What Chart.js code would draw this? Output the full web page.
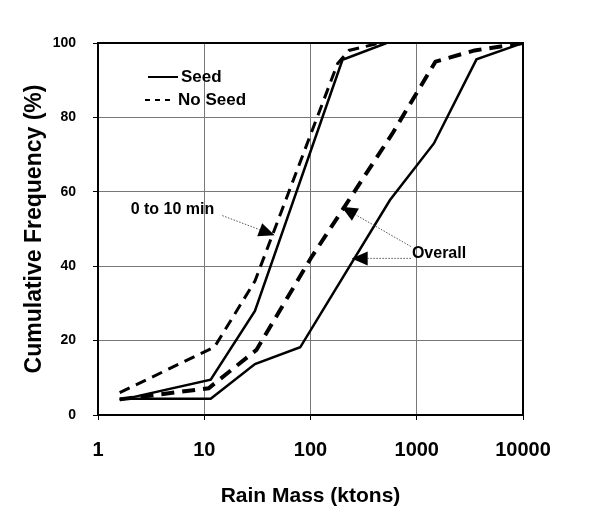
<!DOCTYPE html>
<html>
<head>
<meta charset="utf-8">
<script src="https://cdn.jsdelivr.net/npm/chart.js@4/dist/chart.umd.min.js"></script>
<style>
  html, body { margin: 0; padding: 0; background: #ffffff; }
  #wrap { width: 597px; height: 512px; }
</style>
</head>
<body>
<div id="wrap"><canvas id="c" width="597" height="512"></canvas></div>
<script>
// ---- Data ----
const xTickValues = [1, 10, 100, 1000, 10000];
const xTickLabels = ['1', '10', '100', '1000', '10000'];
const yTickValues = [0, 20, 40, 60, 80, 100];

// 0 to 10 min, Seed (solid)
const seed010X = [1.6, 11.5, 30, 200, 520];
const seed010Y = [4.0, 9.5, 28, 95.5, 100];
// 0 to 10 min, No Seed (dashed)
const noSeed010X = [1.6, 12.5, 30, 180, 230, 450];
const noSeed010Y = [6.0, 18.3, 36, 94.5, 98, 100];
// Overall, Seed (solid)
const seedAllX = [1.6, 11.5, 30, 80, 560, 1450, 3650, 10000];
const seedAllY = [4.4, 4.4, 13.7, 18.2, 57.8, 73, 95.6, 100];
// Overall, No Seed (dashed)
const noSeedAllX = [1.6, 11, 31, 100, 600, 1500, 3500, 10000];
const noSeedAllY = [4.2, 7.2, 17.5, 42, 76, 95, 98, 100];

const legendLabels = ['Seed', 'No Seed'];
const annoLabels = ['0 to 10 min', 'Overall'];
// annotation anchors in data units
const anno010Text = [2.03, 55.1];
const anno010From = [14.8, 53.6];
const anno010Tip = [46, 48.3];
const annoAllText = [900, 43.3];
const annoAllFrom1 = [880, 45.3];
const annoAllTip1 = [196, 56];
const annoAllFrom2 = [880, 42.1];
const annoAllTip2 = [244, 42.1];

const pts = (xs, ys) => xs.map((x, i) => ({ x: x, y: ys[i] }));

const FONT = "'Liberation Sans', Arial, Helvetica, sans-serif";

const framePlugin = {
  id: 'frame',
  afterDraw(chart) {
    const { ctx, chartArea: a, scales } = chart;
    const xs = scales.x, ys = scales.y;
    ctx.save();
    // frame
    ctx.strokeStyle = '#000';
    ctx.lineWidth = 2;
    ctx.strokeRect(a.left, a.top, a.right - a.left, a.bottom - a.top);

    // legend
    const lx = a.left + 50, ly1 = a.top + 34, ly2 = a.top + 57;
    ctx.lineWidth = 2;
    ctx.setLineDash([]);
    ctx.beginPath(); ctx.moveTo(lx, ly1); ctx.lineTo(lx + 30, ly1); ctx.stroke();
    ctx.setLineDash([5, 5]);
    ctx.beginPath(); ctx.moveTo(lx - 3, ly2); ctx.lineTo(lx + 27, ly2); ctx.stroke();
    ctx.setLineDash([]);
    ctx.fillStyle = '#000';
    ctx.font = 'bold 17px ' + FONT;
    ctx.textBaseline = 'middle';
    ctx.textAlign = 'left';
    ctx.fillText(legendLabels[0], lx + 33, ly1);
    ctx.fillText(legendLabels[1], lx + 30, ly2);

    const P = (d) => [xs.getPixelForValue(d[0]), ys.getPixelForValue(d[1])];
    const arrow = (from, tip, len, half) => {
      const [fx, fy] = P(from), [tx, ty] = P(tip);
      const ang = Math.atan2(ty - fy, tx - fx);
      const bx = tx - len * Math.cos(ang), by = ty - len * Math.sin(ang);
      ctx.strokeStyle = '#555';
      ctx.lineWidth = 1;
      ctx.setLineDash([1.5, 1.5]);
      ctx.beginPath(); ctx.moveTo(fx, fy); ctx.lineTo(bx, by); ctx.stroke();
      ctx.setLineDash([]);
      ctx.fillStyle = '#000';
      ctx.beginPath();
      ctx.moveTo(tx, ty);
      ctx.lineTo(bx + half * Math.sin(ang), by - half * Math.cos(ang));
      ctx.lineTo(bx - half * Math.sin(ang), by + half * Math.cos(ang));
      ctx.closePath();
      ctx.fill();
    };
    arrow(anno010From, anno010Tip, 16, 7);
    arrow(annoAllFrom1, annoAllTip1, 16, 7);
    arrow(annoAllFrom2, annoAllTip2, 16, 7);

    ctx.fillStyle = '#000';
    ctx.font = 'bold 16px ' + FONT;
    ctx.textBaseline = 'middle';
    ctx.textAlign = 'left';
    let [t1x, t1y] = P(anno010Text);
    ctx.fillText(annoLabels[0], t1x, t1y);
    let [t2x, t2y] = P(annoAllText);
    ctx.fillText(annoLabels[1], t2x, t2y);
    ctx.restore();
  }
};

new Chart(document.getElementById('c'), {
  type: 'line',
  data: {
    datasets: [
      { label: '0-10 Seed', data: pts(seed010X, seed010Y), borderColor: '#000', borderWidth: 2.5, pointRadius: 0, tension: 0, fill: false },
      { label: '0-10 No Seed', data: pts(noSeed010X, noSeed010Y), borderColor: '#000', borderWidth: 3, borderDash: [11, 7], pointRadius: 0, tension: 0, fill: false },
      { label: 'Overall Seed', data: pts(seedAllX, seedAllY), borderColor: '#000', borderWidth: 2.5, pointRadius: 0, tension: 0, fill: false },
      { label: 'Overall No Seed', data: pts(noSeedAllX, noSeedAllY), borderColor: '#000', borderWidth: 4, borderDash: [13, 8], pointRadius: 0, tension: 0, fill: false }
    ]
  },
  options: {
    responsive: false,
    animation: false,
    layout: { padding: { left: 0, top: 43, right: 74, bottom: 0 } },
    plugins: { legend: { display: false }, tooltip: { enabled: false } },
    scales: {
      x: {
        type: 'logarithmic',
        min: 1, max: 10000,
        afterBuildTicks: (s) => { s.ticks = xTickValues.map(v => ({ value: v })); },
        afterFit: (s) => { s.height = 97; },
        ticks: {
          color: '#000',
          font: { family: FONT, size: 20, weight: 'bold' },
          padding: 18,
          maxRotation: 0,
          autoSkip: false,
          callback: (v) => { const i = xTickValues.indexOf(v); return i >= 0 ? xTickLabels[i] : ''; }
        },
        grid: { color: '#777', lineWidth: 1, tickLength: 5, tickColor: '#000' },
        border: { color: '#000', width: 2 },
        title: { display: true, text: 'Rain Mass (ktons)', color: '#000', font: { family: FONT, size: 21, weight: 'bold' }, padding: { top: 4, bottom: 3 } }
      },
      y: {
        type: 'linear',
        min: 0, max: 100,
        afterBuildTicks: (s) => { s.ticks = yTickValues.map(v => ({ value: v })); },
        afterFit: (s) => { s.width = 98; },
        ticks: {
          color: '#000',
          font: { family: FONT, size: 14, weight: 'bold' },
          padding: 17
        },
        grid: { color: '#777', lineWidth: 1, tickLength: 5, tickColor: '#000' },
        border: { color: '#000', width: 2 },
        title: { display: true, text: 'Cumulative Frequency (%)', color: '#000', font: { family: FONT, size: 23, weight: 'bold' }, padding: { top: 21, bottom: 4 } }
      }
    }
  },
  plugins: [framePlugin]
});
</script>
</body>
</html>
